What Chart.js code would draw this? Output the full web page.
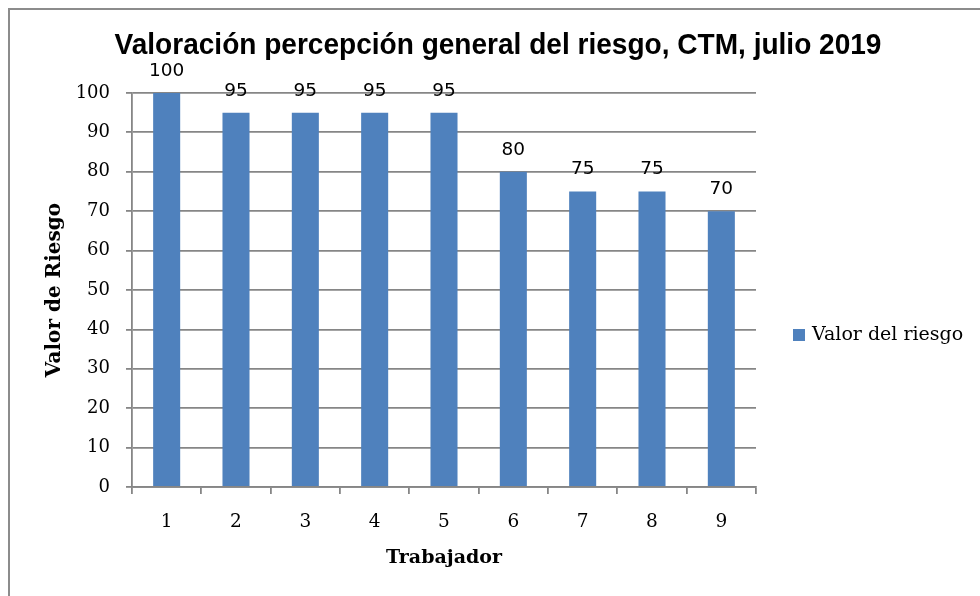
<!DOCTYPE html>
<html>
<head>
<meta charset="utf-8">
<script src="https://cdn.jsdelivr.net/npm/chart.js@4"></script>
<style>
  html, body { margin: 0; padding: 0; background: #fff; }
  #wrap { position: relative; width: 980px; height: 596px; overflow: hidden; }
  #frame { position: absolute; left: 8px; top: 8px; width: 1200px; height: 800px;
           border-left: 2px solid #8c8c8c; border-top: 2px solid #8c8c8c; pointer-events: none; }
  canvas { position: absolute; left: 0; top: 0; }
</style>
</head>
<body>
<div id="wrap">
  <canvas id="riesgo" width="980" height="596"></canvas>
  <div id="frame"></div>
</div>
<script>
const trabajadores = ['1', '2', '3', '4', '5', '6', '7', '8', '9'];
const valores = [100, 95, 95, 95, 95, 80, 75, 75, 70];
const serieNombre = 'Valor del riesgo';
const tituloGrafico = 'Valoración percepción general del riesgo, CTM, julio 2019';

const azul = '#4F81BD';
const gris = '#868686';

// title in a slightly condensed bold sans (no narrow font installed)
const narrowTitle = {
  id: 'narrowTitle',
  afterDraw(chart) {
    const ctx = chart.ctx;
    ctx.save();
    ctx.font = 'bold 30px "Liberation Sans"';
    ctx.fillStyle = '#000';
    ctx.textAlign = 'center';
    ctx.textBaseline = 'middle';
    ctx.translate(498, 46);
    ctx.scale(0.935, 1);
    ctx.fillText(tituloGrafico, 0, 0);
    ctx.restore();
  }
};

// numbers above each bar
const valueLabels = {
  id: 'valueLabels',
  afterDatasetsDraw(chart) {
    const ctx = chart.ctx;
    const meta = chart.getDatasetMeta(0);
    ctx.save();
    ctx.font = '18.5px "DejaVu Sans"';
    ctx.fillStyle = '#000';
    ctx.textAlign = 'center';
    ctx.textBaseline = 'middle';
    meta.data.forEach((bar, i) => {
      ctx.fillText(String(valores[i]), bar.x, bar.y - 22);
    });
    ctx.restore();
  }
};

// legend to the right of the plot, like the Excel one
const sideLegend = {
  id: 'sideLegend',
  afterDraw(chart) {
    const ctx = chart.ctx;
    const ds = chart.data.datasets[0];
    const x = chart.chartArea.right + 37;
    const y = 335;
    ctx.save();
    ctx.fillStyle = ds.backgroundColor;
    ctx.fillRect(x, y - 6, 12, 12);
    ctx.fillStyle = '#000';
    ctx.font = '19px "DejaVu Serif"';
    ctx.textAlign = 'left';
    ctx.textBaseline = 'middle';
    ctx.fillText(ds.label, x + 19, y);
    ctx.restore();
  }
};

const riesgoChart = new Chart(document.getElementById('riesgo'), {
  type: 'bar',
  data: {
    labels: trabajadores,
    datasets: [{
      label: serieNombre,
      data: valores,
      backgroundColor: azul,
      borderWidth: 0,
      categoryPercentage: 1,
      barPercentage: 0.39
    }]
  },
  options: {
    responsive: false,
    animation: false,
    devicePixelRatio: 1,
    layout: { padding: { left: 16, top: 93, right: 0, bottom: 0 } },
    plugins: {
      legend: { display: false },
      tooltip: { enabled: false },
      title: { display: false }
    },
    scales: {
      x: {
        grid: { drawOnChartArea: false, drawTicks: true, tickLength: 7, color: gris, lineWidth: 1.8 },
        border: { color: gris, width: 1.8 },
        ticks: { color: '#000', padding: 17, font: { family: 'DejaVu Serif', size: 18.5 } },
        title: {
          display: true, text: 'Trabajador', color: '#000',
          font: { family: 'DejaVu Serif', size: 19, weight: 'bold', lineHeight: 1.2 },
          padding: { top: 0, bottom: 27 }
        },
        afterFit(s) { s.height = 109; }
      },
      y: {
        min: 0,
        max: 100,
        grid: { color: gris, lineWidth: 1.8, tickLength: 6 },
        border: { color: gris, width: 1.8 },
        ticks: { stepSize: 10, color: '#000', padding: 16, font: { family: 'DejaVu Serif', size: 18 } },
        title: {
          display: true, text: 'Valor de Riesgo', color: '#000',
          font: { family: 'DejaVu Serif', size: 20, weight: 'bold', lineHeight: 1.2 },
          padding: { top: 27, bottom: 0 }
        },
        afterFit(s) { s.width = 116; }
      },
      // empty axis only to keep the space on the right for the legend
      espacio: {
        type: 'linear',
        position: 'right',
        display: true,
        grid: { display: false },
        border: { display: false },
        ticks: { display: false },
        afterFit(s) { s.width = 224; }
      }
    }
  },
  plugins: [narrowTitle, valueLabels, sideLegend]
});
</script>
</body>
</html>
